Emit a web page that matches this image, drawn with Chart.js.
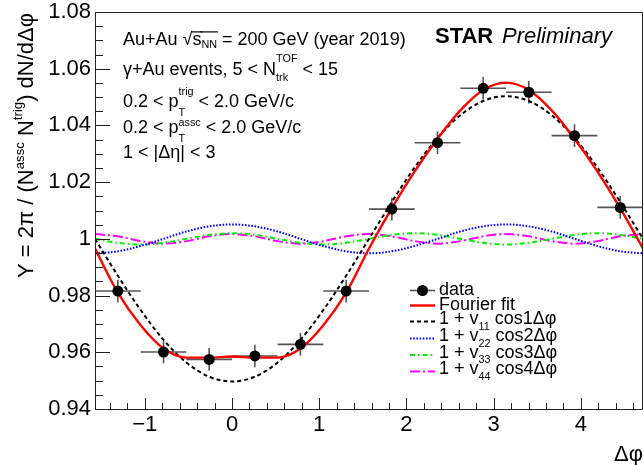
<!DOCTYPE html>
<html>
<head>
<meta charset="utf-8">
<title>γ+Au Δφ correlation</title>
<script src="https://cdn.jsdelivr.net/npm/chart.js@4.4.1/dist/chart.umd.min.js"></script>
<style>
  html, body { margin: 0; padding: 0; background: #fff; }
  canvas { display: block; }
</style>
</head>
<body>
<canvas id="dphiChart" width="644" height="465"></canvas>
<script>
// Measured per-trigger yield in Δφ bins (bin width π/6)
const binCenters = [-1.309, -0.785, -0.262, 0.262, 0.785, 1.309, 1.833, 2.356, 2.880, 3.403, 3.927, 4.451];
const yields     = [0.9816, 0.9601, 0.9575, 0.9587, 0.9628, 0.9816, 1.0105, 1.0339, 1.0531, 1.0517, 1.0364, 1.0111];
const yieldErr   = [0.0040, 0.0040, 0.0040, 0.0040, 0.0040, 0.0040, 0.0040, 0.0040, 0.0040, 0.0040, 0.0040, 0.0040];
const binHalfWidth = 0.2618;

// Fourier fit and single-harmonic terms, sampled every π/12
const curveX = [-1.5708, -1.3090, -1.0472, -0.7854, -0.5236, -0.2618, 0, 0.2618, 0.5236, 0.7854, 1.0472, 1.3090,
                1.5708, 1.8326, 2.0944, 2.3562, 2.6180, 2.8798, 3.1416, 3.4034, 3.6652, 3.9270, 4.1888, 4.4506, 4.7124];
const fitY = [0.9966, 0.9810, 0.9695, 0.9613, 0.9581, 0.9581, 0.9585, 0.9581, 0.9581, 0.9613, 0.9695, 0.9810,
              0.9966, 1.0108, 1.0238, 1.0353, 1.0453, 1.0525, 1.0551, 1.0525, 1.0453, 1.0353, 1.0238, 1.0108, 0.9966];
const v11Y = [1.0000, 0.9870, 0.9749, 0.9644, 0.9564, 0.9514, 0.9497, 0.9514, 0.9564, 0.9644, 0.9749, 0.9870,
              1.0000, 1.0130, 1.0252, 1.0356, 1.0436, 1.0486, 1.0503, 1.0486, 1.0436, 1.0356, 1.0252, 1.0130, 1.0000];
const v22Y = [0.9949, 0.9956, 0.9975, 1.0000, 1.0026, 1.0044, 1.0051, 1.0044, 1.0026, 1.0000, 0.9975, 0.9956,
              0.9949, 0.9956, 0.9975, 1.0000, 1.0026, 1.0044, 1.0051, 1.0044, 1.0026, 1.0000, 0.9975, 0.9956, 0.9949];
const v33Y = [1.0000, 0.9986, 0.9980, 0.9986, 1.0000, 1.0014, 1.0020, 1.0014, 1.0000, 0.9986, 0.9980, 0.9986,
              1.0000, 1.0014, 1.0020, 1.0014, 1.0000, 0.9986, 0.9980, 0.9986, 1.0000, 1.0014, 1.0020, 1.0014, 1.0000];
const v44Y = [1.0017, 1.0009, 0.9992, 0.9983, 0.9992, 1.0009, 1.0017, 1.0009, 0.9992, 0.9983, 0.9992, 1.0009,
              1.0017, 1.0009, 0.9992, 0.9983, 0.9992, 1.0009, 1.0017, 1.0009, 0.9992, 0.9983, 0.9992, 1.0009, 1.0017];

// Axes
const xRange = [-1.5708, 4.7124];
const yRange = [0.94, 1.08];
const xTicks = [-1, 0, 1, 2, 3, 4];
const xTickLabels = ['\u22121', '0', '1', '2', '3', '4'];
const yTicks = [0.94, 0.96, 0.98, 1.00, 1.02, 1.04, 1.06, 1.08];
const yTickLabels = ['0.94', '0.96', '0.98', '1', '1.02', '1.04', '1.06', '1.08'];

const FONT = '"Liberation Sans", Arial, Helvetica, sans-serif';
const toPoints = (xs, ys) => xs.map((x, i) => ({ x, y: ys[i] }));

// draw a run of text pieces with sub/superscripts; returns advance
function drawRich(ctx, x, y, parts, size) {
  let cx = x, pend = 0;
  for (const p of parts) {
    const s = size * (p.k || 1);
    ctx.font = (p.style || '') + ' ' + s + 'px ' + FONT;
    const w = ctx.measureText(p.t).width;
    ctx.fillText(p.t, cx, y + (p.dy || 0) * size);
    const adv = p.stack ? 0 : Math.max(w, pend);
    if (p.bar) {
      ctx.save();
      ctx.lineWidth = 1.2;
      ctx.strokeStyle = ctx.fillStyle;
      ctx.beginPath();
      ctx.moveTo(cx - 1, y - 0.7 * size);
      ctx.lineTo(cx + w + 1, y - 0.7 * size);
      ctx.stroke();
      ctx.restore();
    }
    if (p.stack) pend = w; else { cx += adv; pend = 0; }
  }
  return cx - x;
}

const sub = (t, dy) => ({ t, k: 0.6, dy });

// one fitted curve as a smooth line dataset
function curve(label, ys, color, dash, width, order) {
  return {
    type: 'line', label, data: toPoints(curveX, ys),
    borderColor: color, borderWidth: width, borderDash: dash,
    pointRadius: 0, fill: false, cubicInterpolationMode: 'monotone',
    clip: 0, order
  };
}

const datasets = [
  {
    type: 'scatter', label: 'data', data: toPoints(binCenters, yields),
    backgroundColor: '#000', borderWidth: 0, pointRadius: 5.5, showLine: false, order: 0
  },
  curve('Fourier fit', fitY, '#ff0000', [], 2.4, 1),
  curve('v11', v11Y, '#000000', [4, 3], 2, 2),
  curve('v22', v22Y, '#0000ff', [1.6, 1.6], 2, 3),
  curve('v33', v33Y, '#00ee00', [5, 3, 1.6, 3], 2, 4),
  curve('v44', v44Y, '#ff00ff', [10, 3, 2, 3], 2, 5)
];

// legend text, one row per dataset
const legendText = [
  [{ t: 'data' }],
  [{ t: 'Fourier fit' }],
  [{ t: '1 + v' }, sub('11', 0.33), { t: ' cos1\u0394\u03c6' }],
  [{ t: '1 + v' }, sub('22', 0.33), { t: ' cos2\u0394\u03c6' }],
  [{ t: '1 + v' }, sub('33', 0.33), { t: ' cos3\u0394\u03c6' }],
  [{ t: '1 + v' }, sub('44', 0.33), { t: ' cos4\u0394\u03c6' }]
];

const notes = [
  [{ t: 'Au+Au ' }, { t: '\u221a' }, { t: 's', bar: true }, { t: 'NN', k: 0.6, dy: 0.18, bar: true }, { t: ' = 200 GeV (year 2019)' }],
  [{ t: '\u03b3+Au events, 5 < N' }, { t: 'TOF', k: 0.6, dy: -0.7, stack: true }, sub('trk', 0.33), { t: ' < 15' }],
  [{ t: '0.2 < p' }, { t: 'trig', k: 0.6, dy: -0.65, stack: true }, sub('T', 0.5), { t: ' < 2.0 GeV/c' }],
  [{ t: '0.2 < p' }, { t: 'assc', k: 0.6, dy: -0.4, stack: true }, sub('T', 0.5), { t: ' < 2.0 GeV/c' }],
  [{ t: '1 < |\u0394\u03b7| < 3' }]
];
const noteBaselines = [44.5, 75, 107, 133, 157.5];

const errorBars = {
  id: 'errorBars',
  beforeDatasetsDraw(chart) {
    const { ctx, scales: { x, y } } = chart;
    ctx.save();
    ctx.strokeStyle = '#555';
    ctx.lineWidth = 1.6;
    binCenters.forEach((c, i) => {
      const px = x.getPixelForValue(c), py = y.getPixelForValue(yields[i]);
      ctx.beginPath();
      ctx.moveTo(x.getPixelForValue(c - binHalfWidth), py);
      ctx.lineTo(x.getPixelForValue(c + binHalfWidth), py);
      ctx.moveTo(px, y.getPixelForValue(yields[i] - yieldErr[i]));
      ctx.lineTo(px, y.getPixelForValue(yields[i] + yieldErr[i]));
      ctx.stroke();
    });
    ctx.restore();
  }
};

// ROOT-style frame with ticks pointing into the pad
const frame = {
  id: 'frame',
  afterDatasetsDraw(chart) {
    const { ctx, chartArea: a, scales: { x, y } } = chart;
    ctx.save();
    ctx.strokeStyle = '#222';
    ctx.lineWidth = 1;
    ctx.beginPath();
    ctx.rect(a.left + 0.5, a.top + 0.5, a.right - a.left - 1, a.bottom - a.top);
    ctx.stroke();
    ctx.beginPath();
    for (let i = 0; i <= 28; i++) {
      const v = yRange[0] + i * 0.005;
      const py = Math.round(y.getPixelForValue(v)) + 0.5;
      const len = i % 4 === 0 ? 15 : 8;
      ctx.moveTo(a.left, py);
      ctx.lineTo(a.left + len, py);
    }
    for (let v = -1.4; v < xRange[1]; v += 0.2) {
      const major = Math.abs(v - Math.round(v)) < 1e-6;
      const px = Math.round(x.getPixelForValue(v)) + 0.5;
      ctx.moveTo(px, a.bottom);
      ctx.lineTo(px, a.bottom - (major ? 11 : 6));
    }
    ctx.stroke();
    ctx.restore();
  },
  afterDraw(chart) {
    const { ctx } = chart;
    ctx.save();
    ctx.fillStyle = '#000';
    ctx.textAlign = 'left';
    ctx.textBaseline = 'alphabetic';

    // y title, rotated
    ctx.save();
    ctx.translate(33, 278);
    ctx.rotate(-Math.PI / 2);
    drawRich(ctx, 0, 0, [
      { t: 'Y = 2\u03c0 / (N' }, { t: 'assc', k: 0.6, dy: -0.42 }, { t: ' N' },
      { t: 'trig', k: 0.6, dy: -0.5 }, { t: ') dN/d\u0394\u03c6' }
    ], 22);
    ctx.restore();

    // x title
    ctx.font = '22px ' + FONT;
    ctx.textAlign = 'right';
    ctx.fillText('\u0394\u03c6', 643, 461);
    ctx.textAlign = 'left';

    notes.forEach((parts, i) => drawRich(ctx, 123, noteBaselines[i], parts, 18));

    ctx.font = 'bold 22px ' + FONT;
    ctx.fillText('STAR', 435, 43);
    ctx.font = 'italic 22px ' + FONT;
    ctx.fillText('Preliminary', 502, 43);

    // legend
    const rowY = [290.5, 305.5, 321.5, 338.5, 355, 371.5];
    chart.data.datasets.forEach((ds, i) => {
      const cy = rowY[i];
      ctx.save();
      if (i === 0) {
        ctx.strokeStyle = '#555';
        ctx.lineWidth = 1.6;
        ctx.beginPath();
        ctx.moveTo(410, cy); ctx.lineTo(435, cy);
        ctx.stroke();
        ctx.fillStyle = ds.backgroundColor;
        ctx.beginPath();
        ctx.arc(422.5, cy, ds.pointRadius, 0, Math.PI * 2);
        ctx.fill();
      } else {
        ctx.strokeStyle = ds.borderColor;
        ctx.lineWidth = ds.borderWidth;
        ctx.setLineDash(ds.borderDash);
        ctx.beginPath();
        ctx.moveTo(410, cy); ctx.lineTo(435, cy);
        ctx.stroke();
      }
      ctx.restore();
      drawRich(ctx, 439, cy + (i < 2 ? 4.5 : 2.5), legendText[i], 18);
    });
    ctx.restore();
  }
};

new Chart(document.getElementById('dphiChart'), {
  type: 'scatter',
  data: { datasets },
  options: {
    responsive: false,
    animation: false,
    devicePixelRatio: 1,
    layout: { autoPadding: false, padding: { top: 12, right: 1, left: 0, bottom: 0 } },
    plugins: { legend: { display: false }, tooltip: { enabled: false } },
    scales: {
      x: {
        type: 'linear', min: xRange[0], max: xRange[1],
        grid: { display: false, drawTicks: false },
        border: { display: false },
        afterBuildTicks: s => { s.ticks = xTicks.map(v => ({ value: v })); },
        afterFit: s => { s.height = 56; s.paddingLeft = 0; s.paddingRight = 0; },
        ticks: {
          padding: 3, color: '#000', maxRotation: 0, autoSkip: false,
          font: { family: FONT, size: 22 },
          callback: v => xTickLabels[xTicks.indexOf(v)]
        }
      },
      y: {
        type: 'linear', min: yRange[0], max: yRange[1],
        grid: { display: false, drawTicks: false },
        border: { display: false },
        afterBuildTicks: s => { s.ticks = yTicks.map(v => ({ value: v })); },
        afterFit: s => { s.width = 95; s.paddingTop = 0; s.paddingBottom = 0; },
        ticks: {
          padding: 4, color: '#000', autoSkip: false,
          font: { family: FONT, size: 22 },
          callback: v => yTickLabels[yTicks.indexOf(v)]
        }
      }
    }
  },
  plugins: [errorBars, frame]
});
</script>
</body>
</html>
